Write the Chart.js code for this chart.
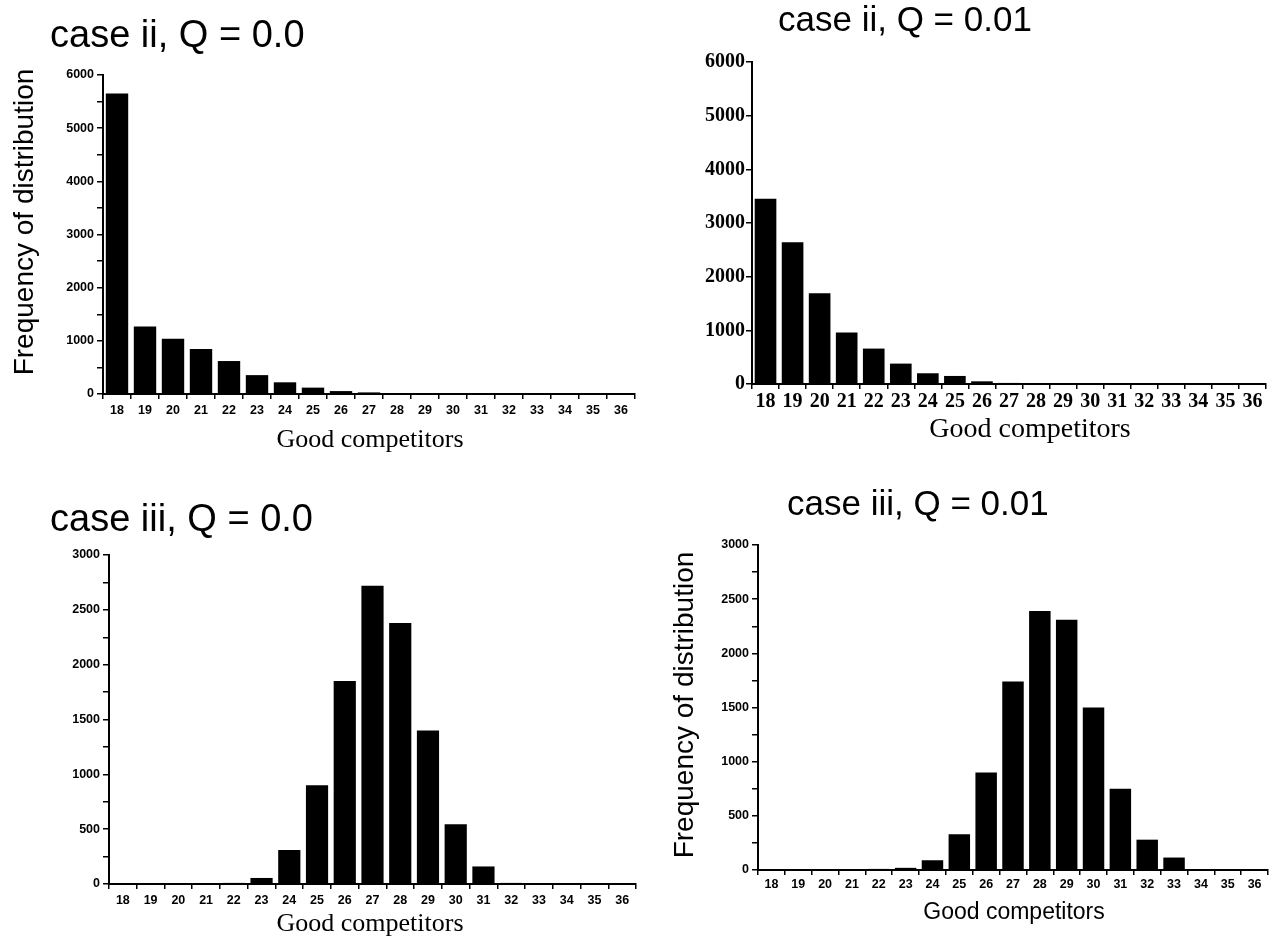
<!DOCTYPE html>
<html>
<head>
<meta charset="utf-8">
<title>Good competitors distributions</title>
<script src="https://cdn.jsdelivr.net/npm/chart.js@4.4.0/dist/chart.umd.min.js"></script>
<style>
  html, body { margin: 0; padding: 0; background: #fff; }
  #wrap { position: relative; width: 1274px; height: 941px; overflow: hidden; }
  #wrap canvas { position: absolute; left: 0; top: 0; }
</style>
</head>
<body>
<div id="wrap">
  <canvas id="c1" width="1274" height="941"></canvas>
  <canvas id="c2" width="1274" height="941"></canvas>
  <canvas id="c3" width="1274" height="941"></canvas>
  <canvas id="c4" width="1274" height="941"></canvas>
</div>
<script>
// number of good competitors (x categories)
var competitors = ['18', '19', '20', '21', '22', '23', '24', '25', '26', '27',
                   '28', '29', '30', '31', '32', '33', '34', '35', '36'];

// frequency of distribution per panel
var caseTwoQ0   = [5650, 1270, 1040, 845, 620, 355, 220, 120, 55, 30, 15, 10, 5, 5, 0, 0, 0, 0, 0];
var caseTwoQ01  = [3450, 2640, 1690, 960, 660, 380, 200, 150, 50, 20, 10, 5, 5, 0, 0, 0, 0, 0, 0];
var caseThreeQ0 = [0, 0, 2, 5, 10, 55, 310, 900, 1850, 2720, 2380, 1400, 545, 160, 10, 0, 0, 0, 0];
var caseThreeQ01 = [0, 0, 2, 5, 10, 20, 90, 330, 900, 1740, 2390, 2310, 1500, 750, 280, 115, 0, 0, 0];

// labelled y ticks
var majorTicks6000 = [0, 1000, 2000, 3000, 4000, 5000, 6000];
var majorTicks3000 = [0, 500, 1000, 1500, 2000, 2500, 3000];

// draws free text (titles, axis titles) at fixed page positions
var panelText = {
  id: 'panelText',
  afterDraw: function (chart, args, opts) {
    var ctx = chart.ctx;
    (opts.items || []).forEach(function (t) {
      ctx.save();
      ctx.font = t.font;
      ctx.fillStyle = '#000';
      ctx.textAlign = t.align || 'left';
      ctx.textBaseline = 'middle';
      ctx.translate(t.x, t.y);
      if (t.rotate) ctx.rotate(t.rotate);
      ctx.fillText(t.text, 0, 0);
      ctx.restore();
    });
  }
};

var Y_BOX = 60, X_BOX = 40;

function makePanel(id, p) {
  var ctx = document.getElementById(id).getContext('2d');
  return new Chart(ctx, {
    type: 'bar',
    data: {
      labels: competitors,
      datasets: [{
        data: p.values,
        backgroundColor: '#000',
        borderWidth: 0,
        barPercentage: 1.0,
        categoryPercentage: 0.8
      }]
    },
    options: {
      responsive: false,
      animation: false,
      devicePixelRatio: 1,
      layout: {
        padding: {
          left: p.area.left - Y_BOX,
          top: p.area.top,
          right: 1274 - p.area.right,
          bottom: 941 - p.area.bottom - X_BOX
        }
      },
      plugins: {
        legend: { display: false },
        tooltip: { enabled: false },
        panelText: { items: p.text }
      },
      scales: {
        x: {
          type: 'category',
          offset: true,
          afterFit: function (s) { s.height = X_BOX; },
          grid: { offset: true, drawOnChartArea: false, tickLength: 5, color: '#000', lineWidth: 1.5 },
          border: { color: '#000', width: 2 },
          ticks: {
            color: '#000',
            font: p.tickFont,
            padding: p.xPad,
            maxRotation: 0,
            autoSkip: false
          }
        },
        y: {
          min: 0,
          max: p.yMax,
          afterFit: function (s) { s.width = Y_BOX; },
          grid: { drawOnChartArea: false, tickLength: 6, color: '#000', lineWidth: 1.5 },
          border: { color: '#000', width: 2 },
          ticks: {
            stepSize: p.minorStep,
            color: '#000',
            font: p.tickFont,
            padding: p.yPad,
            callback: function (v) {
              return p.majors.indexOf(v) >= 0 ? String(v) : '';
            }
          }
        }
      }
    },
    plugins: [panelText]
  });
}

var sans = 'Liberation Sans, Arial, Helvetica, sans-serif';
var serif = 'Liberation Serif, Times New Roman, serif';
var yTitleFont = '28px ' + sans;
var smallTicks = { family: sans, size: 12.5, weight: 'bold' };

makePanel('c1', {
  values: caseTwoQ0,
  area: { left: 103, top: 75, right: 635, bottom: 394 },
  yMax: 6000, minorStep: 500, majors: majorTicks6000,
  tickFont: smallTicks,
  xPad: 4, yPad: 3,
  text: [
    { text: 'case ii, Q = 0.0', x: 50, y: 37, font: '38px ' + sans },
    { text: 'Frequency of distribution', x: 25, y: 222, font: yTitleFont, align: 'center', rotate: -Math.PI / 2 },
    { text: 'Good competitors', x: 370, y: 440, font: '26px ' + serif, align: 'center' }
  ]
});

makePanel('c2', {
  values: caseTwoQ01,
  area: { left: 752, top: 62, right: 1266, bottom: 384 },
  yMax: 6000, minorStep: 500, majors: majorTicks6000,
  tickFont: { family: serif, size: 20, weight: 'bold' },
  xPad: 1, yPad: 1,
  text: [
    { text: 'case ii, Q = 0.01', x: 778, y: 21, font: '35px ' + sans },
    { text: 'Good competitors', x: 1030, y: 430, font: '28px ' + serif, align: 'center' }
  ]
});

makePanel('c3', {
  values: caseThreeQ0,
  area: { left: 109, top: 555, right: 636, bottom: 884 },
  yMax: 3000, minorStep: 250, majors: majorTicks3000,
  tickFont: smallTicks,
  xPad: 4, yPad: 3,
  text: [
    { text: 'case iii, Q = 0.0', x: 50, y: 521, font: '38px ' + sans },
    { text: 'Good competitors', x: 370, y: 924, font: '26px ' + serif, align: 'center' }
  ]
});

makePanel('c4', {
  values: caseThreeQ01,
  area: { left: 758, top: 545, right: 1268, bottom: 870 },
  yMax: 3000, minorStep: 250, majors: majorTicks3000,
  tickFont: smallTicks,
  xPad: 2, yPad: 3,
  text: [
    { text: 'case iii, Q = 0.01', x: 787, y: 505, font: '35px ' + sans },
    { text: 'Frequency of distribution', x: 685, y: 705, font: yTitleFont, align: 'center', rotate: -Math.PI / 2 },
    { text: 'Good competitors', x: 1014, y: 913, font: '23px ' + sans, align: 'center' }
  ]
});
</script>
</body>
</html>
